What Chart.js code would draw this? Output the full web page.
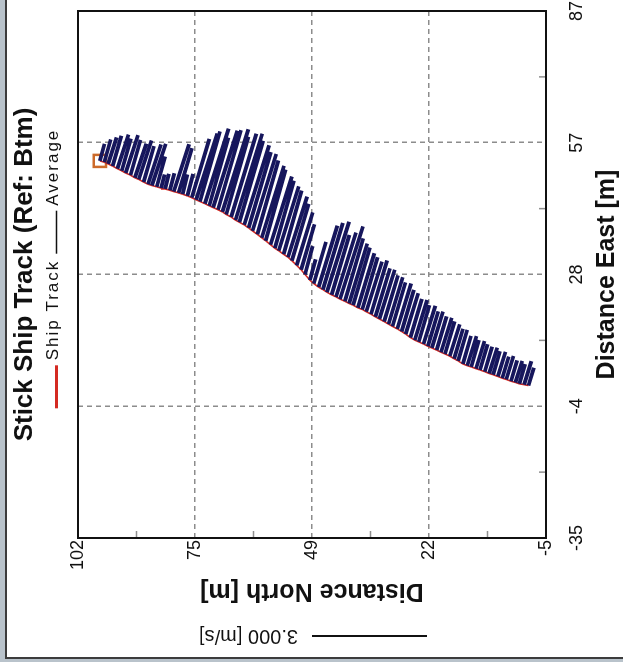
<!DOCTYPE html>
<html lang="en">
<head>
<meta charset="UTF-8">
<title>Stick Ship Track</title>
<script src="https://cdn.jsdelivr.net/npm/chart.js"></script>
<style>
  html, body { margin: 0; padding: 0; }
  body { width: 623px; height: 662px; overflow: hidden; position: relative; background: #b9c3cb; }
  #panel {
    position: absolute; left: 5px; top: 0; width: 618px; height: 659px;
    box-sizing: border-box; background: #fff;
    border-left: 2px solid #3c3c3c; border-bottom: 2px solid #3c3c3c;
  }
  /* the plot is laid out landscape and turned a quarter turn */
  #stickChart {
    position: absolute; left: 0; top: 0;
    transform-origin: 0 0; transform: translateY(662px) rotate(-90deg);
  }
</style>
</head>
<body>
<div id="panel"></div>
<canvas id="stickChart" width="662" height="623"></canvas>
<script>
// axis limits and printed tick labels
const eastRange = [-35, 87];
const northRange = [-5, 102];
const eastTickLabels = ['-35', '-4', '28', '57', '87'];
const northTickLabels = ['-5', '22', '49', '75', '102'];

// ensemble positions along the ship track [m]
const shipNorth = [
  97.0, 96.0, 95.1, 94.1, 93.0, 92.0, 91.1, 90.0, 89.0, 88.1,
  87.0, 86.0, 85.1, 84.0, 83.0, 82.1, 81.0, 80.1, 79.0, 78.1,
  77.0, 76.0, 75.0, 74.1, 73.0, 72.0, 71.1, 70.0, 69.0, 68.1,
  67.0, 66.0, 65.1, 64.0, 63.0, 62.1, 61.0, 60.0, 59.1, 58.0,
  57.0, 56.1, 55.0, 54.0, 53.1, 52.0, 51.0, 50.1, 49.0, 48.1,
  47.0, 46.0, 45.1, 44.0, 43.0, 42.1, 41.0, 40.0, 39.1, 38.0,
  37.0, 36.1, 35.0, 34.0, 33.1, 32.0, 31.0, 30.1, 29.0, 28.0,
  27.1, 26.0, 25.0, 24.1, 23.0, 22.0, 21.1, 20.0, 19.0, 18.1,
  17.0, 16.0, 15.1, 14.0, 13.0, 12.1, 11.0, 10.1, 9.0, 8.0,
  7.1, 6.0, 5.0, 4.1, 3.0, 2.0, 1.1, 0.0, -1.0
];
const shipEast = [
  52.3, 52.0, 51.6, 51.1, 50.5, 50.0, 49.5, 49.0, 48.4, 48.0,
  47.4, 46.9, 46.6, 46.3, 46.0, 45.8, 45.5, 45.2, 44.9, 44.6,
  44.2, 43.8, 43.3, 42.9, 42.4, 41.9, 41.5, 41.0, 40.5, 39.9,
  39.3, 38.6, 38.1, 37.5, 36.8, 36.1, 35.3, 34.5, 33.8, 32.9,
  32.1, 31.5, 30.7, 30.0, 29.2, 28.1, 27.1, 26.0, 24.7, 23.9,
  23.1, 22.5, 21.9, 21.3, 20.8, 20.3, 19.8, 19.3, 18.9, 18.3,
  17.9, 17.4, 16.8, 16.2, 15.7, 15.1, 14.5, 14.0, 13.4, 12.8,
  12.2, 11.4, 10.8, 10.4, 9.9, 9.4, 9.0, 8.5, 8.0, 7.6,
  7.1, 6.5, 6.0, 5.3, 4.9, 4.6, 4.2, 3.9, 3.5, 3.1,
  2.8, 2.4, 2.0, 1.7, 1.3, 1.0, 0.7, 0.5, 0.3
];

// depth averaged water velocity per ensemble [m/s]
const velEast = [
  0.45, 0.60, 0.70, 0.80, 0.90, 0.85, 1.00, 0.93, 0.90, 1.03,
  0.95, 1.05, 1.10, 0.80, 0.36, 0.40, 0.45, 1.25, 1.18, 0.52,
  0.58, 1.55, 1.75, 1.85, 1.98, 1.80, 2.03, 2.10, 2.18, 2.05,
  2.20, 2.28, 2.15, 2.10, 2.00, 2.03, 1.95, 1.90, 1.88, 1.80,
  1.78, 1.70, 1.68, 1.60, 1.50, 1.40, 1.20, 0.75, 0.55, 1.10,
  1.62, 1.76, 1.86, 1.58, 1.70, 1.92, 1.66, 1.58, 1.52, 1.44,
  1.38, 1.32, 1.42, 1.28, 1.30, 1.22, 1.24, 1.16, 1.20, 1.10,
  1.08, 1.02, 1.06, 0.97, 1.01, 0.92, 0.96, 0.89, 0.91, 0.86,
  0.84, 0.79, 0.82, 0.74, 0.78, 0.71, 0.73, 0.68, 0.66, 0.68,
  0.62, 0.65, 0.57, 0.62, 0.55, 0.57, 0.52, 0.62, 0.47
];
const velNorth = [
  -0.12, -0.17, -0.22, -0.23, -0.29, -0.24, -0.32, -0.26, -0.30, -0.33,
  -0.27, -0.34, -0.36, -0.22, -0.09, -0.10, -0.12, -0.40, -0.35, -0.13,
  -0.15, -0.46, -0.55, -0.52, -0.62, -0.50, -0.63, -0.60, -0.68, -0.58,
  -0.66, -0.70, -0.62, -0.65, -0.58, -0.62, -0.55, -0.58, -0.52, -0.56,
  -0.50, -0.52, -0.47, -0.50, -0.44, -0.42, -0.35, -0.20, -0.15, -0.32,
  -0.49, -0.52, -0.58, -0.46, -0.52, -0.60, -0.48, -0.47, -0.44, -0.43,
  -0.40, -0.41, -0.42, -0.38, -0.40, -0.36, -0.37, -0.34, -0.36, -0.32,
  -0.33, -0.30, -0.32, -0.28, -0.31, -0.27, -0.29, -0.26, -0.28, -0.25,
  -0.26, -0.23, -0.24, -0.21, -0.24, -0.20, -0.22, -0.20, -0.19, -0.21,
  -0.18, -0.20, -0.17, -0.19, -0.16, -0.18, -0.15, -0.19, -0.14
];

// metres of plot per 1 m/s of velocity, and the reference stick
const STICK_SCALE = 8.77;
const REF_SPEED = 3;

const track = shipEast.map((e, i) => ({ x: e, y: shipNorth[i] }));

// one segment per ensemble, broken apart with null points
const sticks = [];
shipEast.forEach((e, i) => {
  const n = shipNorth[i];
  sticks.push({ x: e, y: n });
  sticks.push({ x: e + velEast[i] * STICK_SCALE, y: n + velNorth[i] * STICK_SCALE });
  sticks.push({ x: e, y: null });
});

function evenTicks(range, count) {
  return function (scale) {
    const ticks = [];
    for (let i = 0; i < count; i++) {
      ticks.push({ value: range[0] + i * (range[1] - range[0]) / (count - 1) });
    }
    scale.ticks = ticks;
  };
}

// frame, inner minor ticks, legend key and reference stick
const decorations = {
  id: 'decorations',
  afterDraw(chart) {
    const { ctx, chartArea: a, scales } = chart;
    const xs = scales.x, ys = scales.y;
    ctx.save();

    ctx.strokeStyle = '#909090';
    ctx.lineWidth = 1.5;
    ctx.beginPath();
    for (let i = 0; i < xs.ticks.length - 1; i++) {
      const px = xs.getPixelForValue((xs.ticks[i].value + xs.ticks[i + 1].value) / 2);
      ctx.moveTo(px, a.bottom);
      ctx.lineTo(px, a.bottom - 7);
    }
    for (let i = 0; i < ys.ticks.length - 1; i++) {
      const py = ys.getPixelForValue((ys.ticks[i].value + ys.ticks[i + 1].value) / 2);
      ctx.moveTo(a.left, py);
      ctx.lineTo(a.left + 7, py);
    }
    ctx.stroke();

    ctx.strokeStyle = '#111';
    ctx.lineWidth = 2;
    ctx.strokeRect(a.left, a.top, a.right - a.left, a.bottom - a.top);

    // legend key under the title
    const keyItems = chart.data.datasets.filter(d => d.showInKey);
    ctx.font = '17px "Liberation Sans", Arial, sans-serif';
    if ('letterSpacing' in ctx) ctx.letterSpacing = '2px';
    const lineLen = 43, gap = 5, sep = 6;
    const widths = keyItems.map(d => lineLen + gap + ctx.measureText(d.label).width);
    const total = widths.reduce((s, w) => s + w, 0) + sep * (keyItems.length - 1);
    let kx = (a.left + a.right) / 2 + 6 - total / 2;
    const ky = a.top - 24.5;
    ctx.textBaseline = 'middle';
    ctx.textAlign = 'left';
    keyItems.forEach((d, i) => {
      ctx.strokeStyle = d.keyColor || d.borderColor;
      ctx.lineWidth = d.keyWidth;
      ctx.beginPath();
      ctx.moveTo(kx, ky + 3);
      ctx.lineTo(kx + lineLen, ky + 3);
      ctx.stroke();
      ctx.fillStyle = '#111';
      ctx.fillText(d.label, kx + lineLen + gap, ky);
      kx += widths[i] + sep;
    });
    if ('letterSpacing' in ctx) ctx.letterSpacing = '0px';

    // reference stick length
    const refLen = Math.abs(ys.getPixelForValue(REF_SPEED * STICK_SCALE) - ys.getPixelForValue(0));
    const bx = a.left - 98;
    const by = a.top + 234;
    ctx.strokeStyle = '#111';
    ctx.lineWidth = 2;
    ctx.beginPath();
    ctx.moveTo(bx, by);
    ctx.lineTo(bx, by + refLen);
    ctx.stroke();
    ctx.translate(bx, by - 14);
    ctx.rotate(-Math.PI / 2);
    ctx.font = '20px "Liberation Sans", Arial, sans-serif';
    ctx.fillStyle = '#111';
    ctx.fillText(REF_SPEED.toFixed(3) + ' [m/s]', 0, 0);
    ctx.restore();
  }
};

const ctx = document.getElementById('stickChart').getContext('2d');

const stickChart = new Chart(ctx, {
  type: 'scatter',
  data: {
    datasets: [
      {
        label: 'Velocity',
        data: sticks,
        showLine: true,
        spanGaps: false,
        borderColor: '#16165c',
        borderWidth: 3.8,
        borderCapStyle: 'butt',
        pointRadius: 0,
        order: 0
      },
      {
        label: 'Ship Track',
        data: track,
        showLine: true,
        borderColor: '#d42a22',
        borderWidth: 1.6,
        pointRadius: 0,
        showInKey: true,
        keyWidth: 3,
        order: 1
      },
      {
        label: 'Average',
        data: [],
        showLine: true,
        borderColor: '#111111',
        borderWidth: 1,
        pointRadius: 0,
        showInKey: true,
        keyWidth: 1.5,
        order: 3
      },
      {
        label: 'Start',
        data: [track[0]],
        showLine: false,
        pointStyle: 'rect',
        pointRadius: 8.5,
        pointBorderWidth: 2.5,
        borderColor: '#cc6a2a',
        backgroundColor: 'rgba(0,0,0,0)',
        order: 2
      }
    ]
  },
  options: {
    responsive: false,
    animation: false,
    layout: { padding: { left: 0, right: 5, top: 0, bottom: 0 } },
    plugins: {
      legend: { display: false },
      tooltip: { enabled: false },
      title: {
        display: true,
        fullSize: false,
        text: 'Stick Ship Track (Ref: Btm)',
        color: '#111',
        font: { family: '"Liberation Sans", Arial, sans-serif', size: 26, weight: 'bold' },
        padding: { top: 9, bottom: 37.8 }
      }
    },
    scales: {
      x: {
        type: 'linear',
        position: 'bottom',
        min: eastRange[0],
        max: eastRange[1],
        afterBuildTicks: evenTicks(eastRange, eastTickLabels.length),
        afterFit(scale) {
          scale.height = 77;
          scale.paddingLeft = 0;
          scale.paddingRight = 0;
        },
        ticks: {
          autoSkip: false,
          maxRotation: 0,
          padding: 20,
          color: '#111',
          font: { family: '"Liberation Sans", Arial, sans-serif', size: 18 },
          callback: (v, i) => eastTickLabels[i]
        },
        grid: { color: '#8c8c8c', lineWidth: 1.5, drawTicks: false },
        border: { display: false, dash: [5, 4] },
        title: {
          display: true,
          text: 'Distance East [m]',
          color: '#111',
          font: { family: '"Liberation Sans", Arial, sans-serif', size: 25, weight: 'bold' },
          padding: { top: 0, bottom: 1 }
        }
      },
      y: {
        type: 'linear',
        position: 'left',
        min: northRange[0],
        max: northRange[1],
        afterBuildTicks: evenTicks(northRange, northTickLabels.length),
        afterFit(scale) {
          scale.width = 124;
          scale.paddingTop = 0;
          scale.paddingBottom = 0;
        },
        ticks: {
          autoSkip: false,
          padding: 2,
          color: '#111',
          font: { family: '"Liberation Sans", Arial, sans-serif', size: 18 },
          callback: (v, i) => northTickLabels[i]
        },
        grid: { color: '#8c8c8c', lineWidth: 1.5, drawTicks: false },
        border: { display: false, dash: [5, 4] },
        title: {
          display: true,
          text: 'Distance North [m]',
          color: '#111',
          font: { family: '"Liberation Sans", Arial, sans-serif', size: 25, weight: 'bold' },
          padding: { top: 56, bottom: 0 }
        }
      }
    }
  },
  plugins: [decorations]
});
</script>
</body>
</html>
